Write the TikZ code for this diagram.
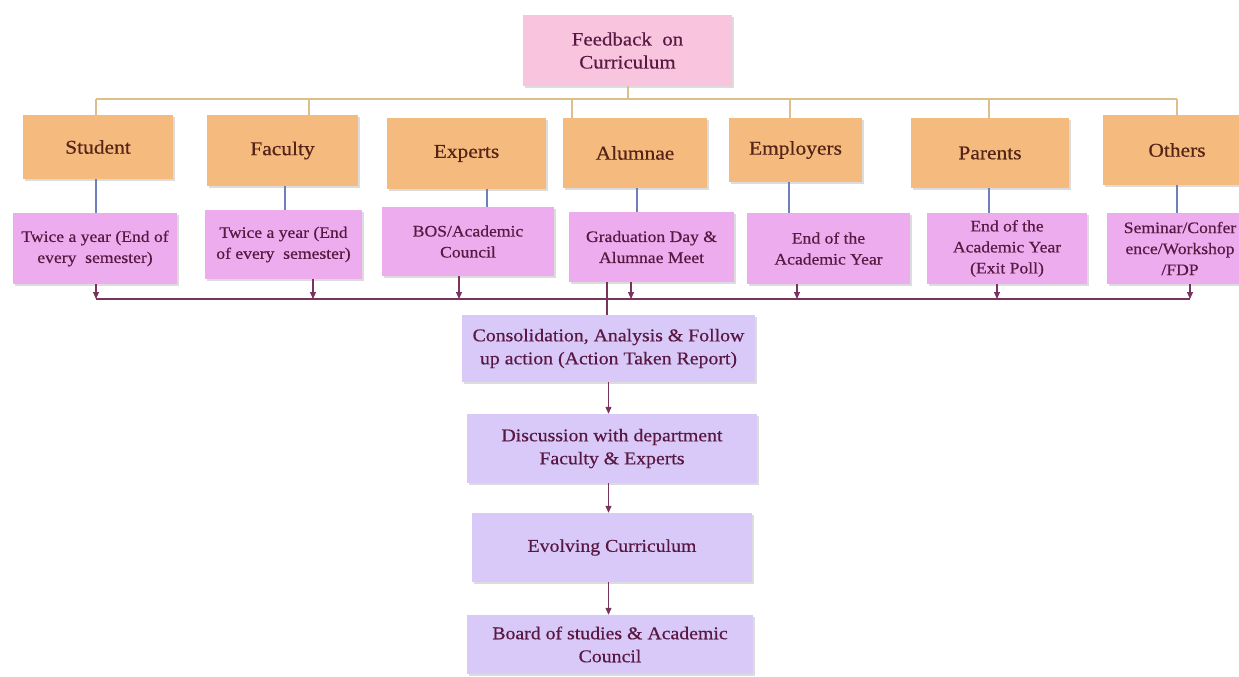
\documentclass[tikz,border=0pt]{standalone}
\usepackage{fontspec}
\setmainfont[FakeStretch=1.1, FakeBold=0.5]{Liberation Serif}
\usetikzlibrary{shadows,arrows.meta}

\definecolor{topfill}{RGB}{248,196,222}
\definecolor{orangefill}{RGB}{245,186,126}
\definecolor{pinkfill}{RGB}{237,172,237}
\definecolor{lavfill}{RGB}{217,201,248}
\definecolor{plumtext}{RGB}{88,24,66}
\definecolor{browntext}{RGB}{86,36,22}
\definecolor{tanline}{RGB}{222,190,140}
\definecolor{blueline}{RGB}{112,126,190}
\definecolor{plumline}{RGB}{120,52,92}

\tikzset{
  card/.style={inner sep=0pt, align=center,
    drop shadow={opacity=0.28, shadow xshift=1.5pt, shadow yshift=-2pt}},
  topbox/.style={card, fill=topfill, text=plumtext,
    font=\fontsize{19}{23}\selectfont},
  groupbox/.style={card, fill=orangefill, text=browntext,
    font=\fontsize{19.5}{23}\selectfont},
  whenbox/.style={card, fill=pinkfill, text=plumtext,
    font=\fontsize{16}{21}\selectfont},
  stagebox/.style={card, fill=lavfill, text=plumtext,
    font=\fontsize{18}{23}\selectfont},
  treeline/.style={tanline, line width=2pt},
  linkline/.style={blueline, line width=1.2pt},
  busline/.style={plumline, line width=1.3pt},
  feed/.style={plumline, line width=1.1pt,
    -{Triangle[length=7pt,width=6pt]}},
}

\begin{document}
\begin{tikzpicture}[x=1pt,y=-1pt]
\useasboundingbox (0,0) rectangle (1239,677);

% root
\node[topbox, minimum width=209, minimum height=71] (root) at (627.5,50.5)
  {Feedback~~on\\Curriculum};

% stakeholder groups
\node[groupbox, minimum width=150, minimum height=64] (gStu) at (98,147)   {Student};
\node[groupbox, minimum width=151, minimum height=71] (gFac) at (282.5,150.5) {Faculty};
\node[groupbox, minimum width=159, minimum height=71] (gExp) at (466.5,153.5) {Experts};
\node[groupbox, minimum width=144, minimum height=70] (gAlu) at (635,153)   {Alumnae};
\node[groupbox, minimum width=133, minimum height=64] (gEmp) at (795.5,150) {Employers};
\node[groupbox, minimum width=158, minimum height=70] (gPar) at (990,153)   {Parents};
\node[groupbox, minimum width=148, minimum height=70] (gOth) at (1177,150)  {Others};

% when feedback is collected
\node[whenbox, minimum width=164, minimum height=71] (wStu) at (95,248.5)
  {Twice a year (End of\\every~ semester)};
\node[whenbox, minimum width=157, minimum height=69] (wFac) at (283.5,244.5)
  {Twice a year (End\\of every~ semester)};
\node[whenbox, minimum width=172, minimum height=69] (wExp) at (468,241.5)
  {BOS/Academic\\Council};
\node[whenbox, minimum width=165, minimum height=70] (wAlu) at (651.5,247)
  {Graduation Day \&\\Alumnae Meet};
\node[whenbox, minimum width=163, minimum height=71] (wEmp) at (828.5,248.5)
  {End of the\\Academic Year};
\node[whenbox, minimum width=160, minimum height=71] (wPar) at (1007,248.5)
  {End of the\\Academic Year\\(Exit Poll)};
\node[whenbox, minimum width=146, minimum height=71] (wOth) at (1180,248.5)
  {Seminar/Confer\\ence/Workshop\\/FDP};

% processing chain
\node[stagebox, minimum width=293, minimum height=67] (sCon) at (608.5,348.5)
  {Consolidation, Analysis \& Follow\\up action (Action Taken Report)};
\node[stagebox, minimum width=290, minimum height=69] (sDis) at (612,448.5)
  {Discussion with department\\Faculty \& Experts};
\node[stagebox, minimum width=280, minimum height=69] (sEvo) at (612,547.5)
  {Evolving Curriculum};
\node[stagebox, minimum width=286, minimum height=59] (sBoS) at (610,644.5)
  {Board of studies \& Academic\\Council};

% upper tree: root to groups
\coordinate (t1) at (96,99);
\coordinate (t2) at (309,99);
\coordinate (t3) at (572,99);
\coordinate (t4) at (790,99);
\coordinate (t5) at (989,99);
\coordinate (t6) at (1177,99);
\draw[treeline] (root.south) -- (root.south |- t1);
\draw[treeline] (t1) -- (t6);
\draw[treeline] (t1) -- (t1 |- gStu.north);
\draw[treeline] (t2) -- (t2 |- gFac.north);
\draw[treeline] (t3) -- (t3 |- gAlu.north);
\draw[treeline] (t4) -- (t4 |- gEmp.north);
\draw[treeline] (t5) -- (t5 |- gPar.north);
\draw[treeline] (t6) -- (t6 |- gOth.north);

% group to schedule links
\coordinate (v1) at (96,0);
\coordinate (v2) at (285,0);
\coordinate (v3) at (487,0);
\coordinate (v4) at (637,0);
\coordinate (v5) at (789,0);
\coordinate (v6) at (989,0);
\coordinate (v7) at (1177,0);
\draw[linkline] (gStu.south -| v1) -- (wStu.north -| v1);
\draw[linkline] (gFac.south -| v2) -- (wFac.north -| v2);
\draw[linkline] (gExp.south -| v3) -- (wExp.north -| v3);
\draw[linkline] (gAlu.south -| v4) -- (wAlu.north -| v4);
\draw[linkline] (gEmp.south -| v5) -- (wEmp.north -| v5);
\draw[linkline] (gPar.south -| v6) -- (wPar.north -| v6);
\draw[linkline] (gOth.south -| v7) -- (wOth.north -| v7);

% collecting bus
\coordinate (b1) at (96,299);
\coordinate (b2) at (313,299);
\coordinate (b3) at (459,299);
\coordinate (b4) at (631,299);
\coordinate (b5) at (797,299);
\coordinate (b6) at (997,299);
\coordinate (b7) at (1190,299);
\draw[busline] (b1) -- (b7);
\draw[feed] (b1 |- wStu.south) -- (b1);
\draw[feed] (b2 |- wFac.south) -- (b2);
\draw[feed] (b3 |- wExp.south) -- (b3);
\draw[feed] (b4 |- wAlu.south) -- (b4);
\draw[feed] (b5 |- wEmp.south) -- (b5);
\draw[feed] (b6 |- wPar.south) -- (b6);
\draw[feed] (b7 |- wOth.south) -- (b7);
\coordinate (drop) at (607,0);
\draw[busline, line width=1.1pt] (wAlu.south -| drop) -- (sCon.north -| drop);

% processing arrows
\draw[feed] (sCon.south) -- (sCon.south |- sDis.north);
\draw[feed] (sDis.south -| sCon.south) -- (sEvo.north -| sCon.south);
\draw[feed] (sEvo.south -| sCon.south) -- (sBoS.north -| sCon.south);
\end{tikzpicture}
\end{document}
